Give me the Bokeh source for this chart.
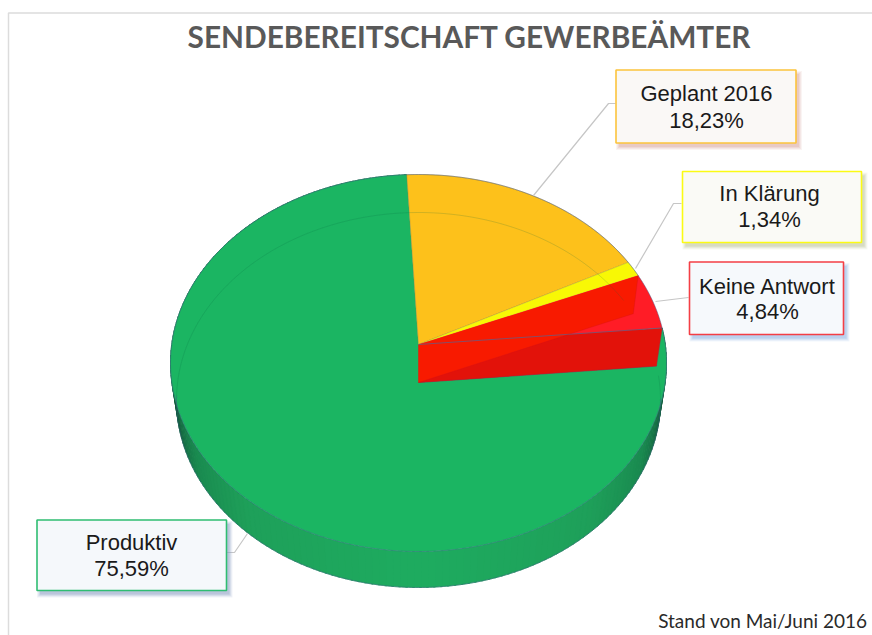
import numpy as np
from bokeh.plotting import figure
from bokeh.embed import file_html
from bokeh.resources import INLINE
from bokeh.core.properties import value

title_text = "SENDEBEREITSCHAFT GEWERBEÄMTER"
footer_text = "Stand von Mai/Juni 2016"
categories = ["Geplant 2016", "In Klärung", "Keine Antwort", "Produktiv"]
shares = [18.23, 1.34, 4.84, 75.59]
share_labels = ["18,23%", "1,34%", "4,84%", "75,59%"]
slice_colors = ["#fdc11b", "#f8f805", "#ff1c26", "#1bb562"]
box_edge = ["#fcc33c", "#fbfb14", "#f43f45", "#2fbd72"]
box_fill = ["#faf8f6", "#fafaf6", "#f6f9fc", "#f5f8fb"]
box_shadow = ["#d9a8a0", "#bcc49c", "#8fb4e4", "#8ba0c4"]

# perspective pie geometry (page pixels)
START = -3.0
CX = 418.0
def make_face(cy, up, down, half_w):
    k = (down / up - 1) / (down / up + 1)
    B = up * (1 + k)
    A = half_w * np.sqrt(1 - k * k)
    def f(theta):
        t = np.radians(np.asarray(theta, dtype=float))
        sx, cy_ = np.sin(t), np.cos(t)
        d = 1 + k * cy_
        return CX + A * sx / d, cy - B * cy_ / d
    return f
top = make_face(344.0, 170.0, 207.0, 248.0)
bot = make_face(382.0, 170.0, 205.0, 242.0)

edges = START + np.concatenate([[0], np.cumsum(shares)]) * 3.6

def arc(a0, a1, f, n=90):
    return f(np.linspace(a0, a1, n))

def wedge(i, f, apex):
    x, y = arc(edges[i], edges[i + 1], f)
    ax, ay = apex
    return [ax, *x], [ay, *y]

p = figure(width=872, height=635, x_range=(0, 872), y_range=(635, 0),
           output_backend="svg", toolbar_location=None, min_border=0)
p.axis.visible = False
p.grid.visible = False
p.outline_line_color = None
p.background_fill_color = "white"
p.border_fill_color = "white"

# chart frame
p.line([8, 8, 872], [635, 12.5, 12.5], line_color="#dcdcdc", line_width=1.5)

# green outer wall with shading
stops_a = [0, 40, 60, 75, 90, 130]
stops_r = [0x1e, 0x1f, 0x1a, 0x14, 0x12, 0x12]
stops_g = [0xac, 0xa0, 0x8a, 0x60, 0x50, 0x50]
stops_b = [0x60, 0x5a, 0x50, 0x3f, 0x38, 0x38]
wx, wy, wc = [], [], []
angs = np.arange(edges[3], edges[4], 1.5)
for a in angs:
    b = min(a + 1.9, edges[4])
    tx, ty = arc(a, b, top, 4)
    bx, by = arc(a, b, bot, 4)
    wx.append([*tx, *bx[::-1]])
    wy.append([*ty, *by[::-1]])
    off = abs((a + 0.75) - 180)
    c = (int(np.interp(off, stops_a, stops_r)), int(np.interp(off, stops_a, stops_g)), int(np.interp(off, stops_a, stops_b)))
    wc.append("#%02x%02x%02x" % c)
p.patches(wx, wy, fill_color=wc, line_color=wc, line_width=0.6)

# top faces
T = (CX, 344.0)
B_ = (CX, 382.0)
x, y = wedge(3, top, T)
p.patch(x, y, fill_color=slice_colors[3], line_color=slice_colors[3], line_width=0.5)
x, y = wedge(0, top, T)
p.patch(x, y, fill_color=slice_colors[0], line_color="#a8803a", line_width=0.6, line_alpha=0.7)
x, y = wedge(1, top, T)
p.patch(x, y, fill_color=slice_colors[1], line_color="#a09a30", line_width=0.5, line_alpha=0.7)

# red slice: floor and far wall, top face, inner wall
ex, ey = top(edges[3])
ebx, eby = bot(edges[3])
qx, qy = top(edges[2])
wx0, wy0 = bot(edges[2])
x, y = wedge(2, bot, B_)
p.patch(x, y, fill_color="#e2120a", line_color="#b02040", line_width=0.6, line_alpha=0.6)
p.patch([T[0], float(ex), float(ebx), B_[0]], [T[1], float(ey), float(eby), B_[1]],
        fill_color="#e2120a", line_color=None)
x, y = wedge(2, top, T)
p.patch(x, y, fill_color=slice_colors[2], line_color=None)
p.patch([T[0], float(qx), float(wx0), B_[0]], [T[1], float(qy), float(wy0), B_[1]],
        fill_color="#f81a00", line_color=None)
p.line([T[0], float(ex)], [T[1], float(ey)], line_color="#6a5a80", line_width=1, line_alpha=0.8)
p.line([B_[0], float(ebx), float(ex)], [B_[1], float(eby), float(ey)], line_color="#b02040", line_width=0.7, line_alpha=0.6)
p.line([float(qx), float(wx0), B_[0]], [float(qy), float(wy0), B_[1]], line_color="#d01018", line_width=0.6, line_alpha=0.5)

# see-through floor ring
rx, ry = arc(edges[3] + 3, edges[4] + 65.6, bot, 240)
p.line(rx, ry, line_color="#0c6a40", line_width=1, line_alpha=0.18)

# rims
tx, ty = arc(0, 360, top, 360)
p.line(tx, ty, line_color="#44648c", line_width=1, line_alpha=0.45)
bx, by = arc(edges[3], edges[4], bot, 300)
p.line(np.asarray(bx)[(by > 395)], np.asarray(by)[(by > 395)], line_color="#44648c", line_width=1, line_alpha=0.4)

# leader lines
leaders = [([533, 608, 615], [195, 103, 103]),
           ([635, 673, 681], [268, 203, 203]),
           ([655, 688], [301, 297]),
           ([247, 234, 226], [533, 552, 552])]
for lx, ly in leaders:
    p.line(lx, ly, line_color="#c6c6c6", line_width=1.2)

# callout boxes: left, right, top, bottom, centre x, first and second line y
boxes = [(615.5, 795.5, 69.5, 142.5, 706, 93, 120),
         (682, 861, 171, 242, 769, 193, 219),
         (689, 843, 261.5, 334, 767, 286, 311),
         (36.5, 226, 519.5, 590, 131, 542, 568)]
for i in range(4):
    l, r, t, b, cx, y1, y2 = boxes[i]
    for grow, al in ((3.0, 0.12), (2.0, 0.16), (1.0, 0.22), (0.0, 0.3)):
        p.quad(left=[l + 3 - grow], right=[r + 3 + grow], top=[t + 4 - grow], bottom=[b + 4 + grow],
               fill_color=box_shadow[i], fill_alpha=al, line_color=None)
    p.quad(left=[l], right=[r], top=[t], bottom=[b], fill_color=box_fill[i],
           line_color=box_edge[i], line_width=1.6)
    p.text([cx], [y1], text=[categories[i]], text_font=value("Liberation Sans"), text_font_size="22px",
           text_color="#1a1a1a", text_align="center", text_baseline="middle")
    p.text([cx], [y2], text=[share_labels[i]], text_font=value("Liberation Sans"), text_font_size="22px",
           text_color="#1a1a1a", text_align="center", text_baseline="middle")

p.text([469], [36], text=[title_text], text_font=value("Lato"), text_font_size="29.8px", text_font_style="bold",
       text_color="#595959", text_align="center", text_baseline="middle")
p.text([867], [620], text=[footer_text], text_font=value("Lato"), text_font_size="19px",
       text_color="#2a2a2a", text_align="right", text_baseline="middle")

open("out.html", "w").write(file_html(p, INLINE))
